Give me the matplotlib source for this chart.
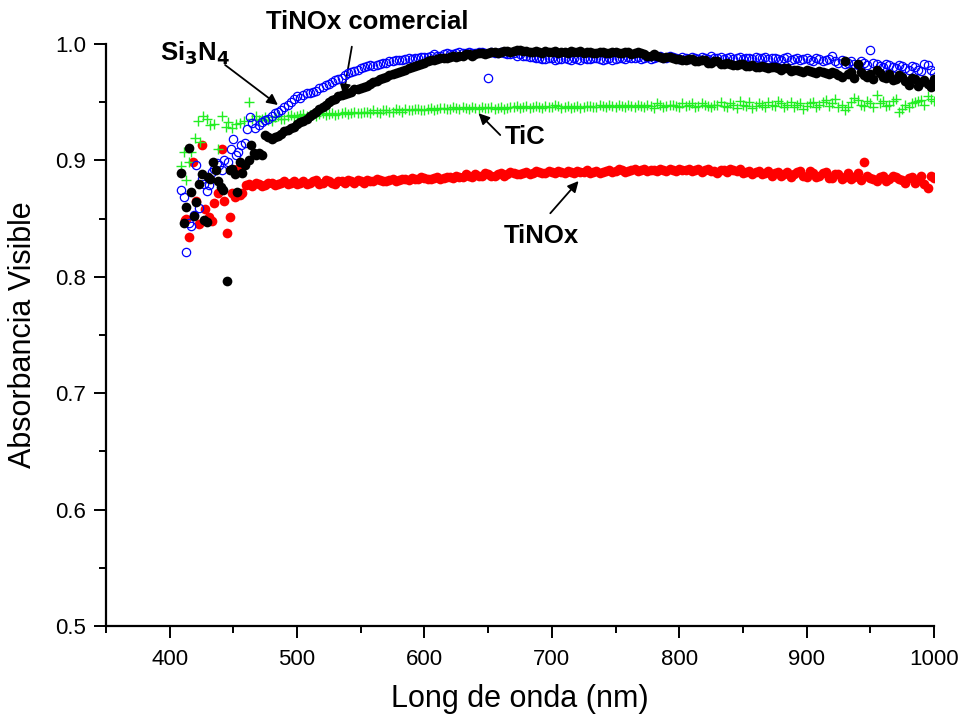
import matplotlib
matplotlib.use("Agg")
import matplotlib.pyplot as plt
from matplotlib.ticker import MultipleLocator

plt.rcParams['font.family'] = ['Liberation Sans', 'DejaVu Sans']

# ---------------- data ----------------
# early scattered region (nm, absorbance)
si3n4_early_x = [409, 411, 413, 415, 417, 419, 421, 423, 425, 427, 429, 431, 433, 435, 437, 439, 441, 443, 446, 448, 450, 452, 454, 456, 459, 461, 463, 465, 467]
si3n4_early_y = [0.875, 0.869, 0.821, 0.846, 0.844, 0.853, 0.896, 0.859, 0.884, 0.880, 0.874, 0.879, 0.890, 0.893, 0.898, 0.896, 0.892, 0.900, 0.899, 0.910, 0.918, 0.905, 0.907, 0.913, 0.915, 0.927, 0.937, 0.932, 0.928]

comercial_early_x = [409, 411, 413, 415, 417, 419, 421, 423, 425, 427, 429, 430, 432, 434, 436, 438, 440, 442, 445, 447, 449, 451, 453, 455, 457, 459, 462, 464, 466, 468]
comercial_early_y = [0.889, 0.846, 0.860, 0.911, 0.873, 0.852, 0.864, 0.880, 0.888, 0.849, 0.847, 0.886, 0.884, 0.899, 0.892, 0.882, 0.877, 0.875, 0.796, 0.892, 0.893, 0.888, 0.873, 0.899, 0.889, 0.896, 0.900, 0.913, 0.906, 0.905]

tic_early_x = [409, 411, 413, 415, 417, 420, 422, 424, 426, 429, 432, 435, 438, 441, 444, 446, 449, 452, 455, 458, 462, 465, 468]
tic_early_y = [0.895, 0.907, 0.883, 0.899, 0.907, 0.919, 0.934, 0.916, 0.938, 0.936, 0.930, 0.931, 0.910, 0.938, 0.929, 0.933, 0.928, 0.931, 0.932, 0.934, 0.950, 0.936, 0.938]

tinox_early_x = [412, 413, 415, 418, 421, 423, 425, 428, 431, 433, 435, 438, 441, 443, 445, 447, 449, 451, 453, 455, 457, 460, 462.5, 465, 467.5]
tinox_early_y = [0.849, 0.850, 0.834, 0.899, 0.865, 0.845, 0.913, 0.858, 0.851, 0.848, 0.863, 0.872, 0.910, 0.865, 0.838, 0.851, 0.872, 0.869, 0.893, 0.870, 0.872, 0.879, 0.880, 0.878, 0.881]

# regular region, every 5 nm
wl_main = [470, 475, 480, 485, 490, 495, 500, 505, 510, 515, 520, 525, 530, 535, 540, 545, 550, 555, 560, 565,
           570, 575, 580, 585, 590, 595, 600, 605, 610, 615, 620, 625, 630, 635, 640, 645, 650, 655, 660, 665,
           670, 675, 680, 685, 690, 695, 700, 705, 710, 715, 720, 725, 730, 735, 740, 745, 750, 755, 760, 765,
           770, 775, 780, 785, 790, 795, 800, 805, 810, 815, 820, 825, 830, 835, 840, 845, 850, 855, 860, 865,
           870, 875, 880, 885, 890, 895, 900, 905, 910, 915, 920, 925, 930, 935, 940, 945, 950, 955, 960, 965,
           970, 975, 980, 985, 990, 995, 1000]

si3n4_main = [0.930, 0.935, 0.938, 0.942, 0.946, 0.950, 0.955, 0.956, 0.958, 0.960, 0.963, 0.966, 0.969, 0.971, 0.975, 0.977, 0.979, 0.981, 0.981, 0.983,
              0.984, 0.985, 0.986, 0.987, 0.987, 0.988, 0.989, 0.990, 0.990, 0.991, 0.991, 0.992, 0.992, 0.993, 0.992, 0.993, 0.971, 0.992, 0.993, 0.991,
              0.992, 0.991, 0.990, 0.989, 0.988, 0.987, 0.988, 0.987, 0.988, 0.986, 0.987, 0.988, 0.987, 0.988, 0.986, 0.988, 0.987, 0.988, 0.989, 0.988,
              0.987, 0.989, 0.988, 0.990, 0.988, 0.989, 0.987, 0.988, 0.989, 0.987, 0.988, 0.990, 0.988, 0.987, 0.989, 0.988, 0.987, 0.988, 0.989, 0.988,
              0.987, 0.988, 0.986, 0.989, 0.987, 0.986, 0.988, 0.985, 0.987, 0.986, 0.990, 0.984, 0.983, 0.985, 0.982, 0.984, 0.995, 0.983, 0.980, 0.982,
              0.979, 0.981, 0.978, 0.980, 0.977, 0.982, 0.975]

comercial_main = [0.906, 0.922, 0.918, 0.921, 0.925, 0.928, 0.931, 0.934, 0.938, 0.942, 0.946, 0.950, 0.953, 0.956, 0.958, 0.961, 0.962, 0.964, 0.967, 0.970,
                  0.972, 0.974, 0.976, 0.978, 0.980, 0.982, 0.984, 0.986, 0.987, 0.988, 0.989, 0.989, 0.990, 0.991, 0.991, 0.992, 0.992, 0.993, 0.993, 0.994,
                  0.994, 0.995, 0.994, 0.993, 0.993, 0.994, 0.993, 0.992, 0.993, 0.994, 0.993, 0.992, 0.993, 0.992, 0.993, 0.992, 0.993, 0.992, 0.993, 0.992,
                  0.992, 0.990, 0.991, 0.989, 0.989, 0.988, 0.987, 0.986, 0.987, 0.985, 0.986, 0.984, 0.985, 0.983, 0.983, 0.982, 0.983, 0.981, 0.980, 0.981,
                  0.979, 0.980, 0.978, 0.979, 0.978, 0.977, 0.978, 0.976, 0.977, 0.975, 0.976, 0.973, 0.985, 0.976, 0.983, 0.973, 0.974, 0.978, 0.972, 0.974,
                  0.970, 0.972, 0.965, 0.970, 0.967, 0.966, 0.970]

tic_main = [0.935, 0.937, 0.934, 0.938, 0.936, 0.939, 0.938, 0.940, 0.939, 0.938, 0.941, 0.940, 0.939, 0.941, 0.940, 0.942, 0.941, 0.942, 0.943, 0.941,
            0.943, 0.942, 0.943, 0.944, 0.943, 0.944, 0.943, 0.945, 0.944, 0.945, 0.944, 0.945, 0.946, 0.944, 0.945, 0.946, 0.945, 0.944, 0.946, 0.945,
            0.946, 0.945, 0.947, 0.946, 0.946, 0.947, 0.946, 0.947, 0.946, 0.945, 0.947, 0.946, 0.947, 0.946, 0.947, 0.948, 0.946, 0.947, 0.948, 0.946,
            0.947, 0.948, 0.945, 0.948, 0.947, 0.948, 0.946, 0.947, 0.949, 0.947, 0.948, 0.946, 0.948, 0.947, 0.949, 0.945, 0.948, 0.950, 0.947, 0.948,
            0.950, 0.947, 0.949, 0.948, 0.946, 0.949, 0.947, 0.950, 0.948, 0.952, 0.949, 0.946, 0.943, 0.950, 0.952, 0.947, 0.949, 0.956, 0.951, 0.948,
            0.953, 0.944, 0.946, 0.950, 0.952, 0.955, 0.951]

tinox_main = [0.880, 0.879, 0.881, 0.880, 0.882, 0.881, 0.880, 0.882, 0.881, 0.883, 0.881, 0.882, 0.880, 0.882, 0.883, 0.881, 0.882, 0.883, 0.882, 0.883,
              0.882, 0.884, 0.883, 0.884, 0.885, 0.884, 0.885, 0.884, 0.886, 0.885, 0.886, 0.887, 0.886, 0.887, 0.888, 0.887, 0.888, 0.887, 0.889, 0.888,
              0.889, 0.888, 0.890, 0.889, 0.890, 0.889, 0.890, 0.891, 0.889, 0.890, 0.891, 0.890, 0.889, 0.891, 0.890, 0.892, 0.891, 0.892, 0.891, 0.893,
              0.892, 0.891, 0.892, 0.893, 0.891, 0.892, 0.893, 0.892, 0.891, 0.893, 0.892, 0.891, 0.889, 0.892, 0.893, 0.891, 0.889, 0.891, 0.890, 0.888,
              0.891, 0.889, 0.887, 0.890, 0.888, 0.891, 0.886, 0.889, 0.887, 0.890, 0.885, 0.888, 0.886, 0.884, 0.889, 0.899, 0.885, 0.882, 0.887, 0.884,
              0.886, 0.883, 0.885, 0.881, 0.887, 0.876, 0.885]

# intermediate readings, between the 5 nm grid
wl_mid = [472.5, 477.5, 482.5, 487.5, 492.5, 497.5, 502.5, 507.5, 512.5, 517.5, 522.5, 527.5, 532.5, 537.5, 542.5, 547.5, 552.5, 557.5, 562.5, 567.5,
          572.5, 577.5, 582.5, 587.5, 592.5, 597.5, 602.5, 607.5, 612.5, 617.5, 622.5, 627.5, 632.5, 637.5, 642.5, 647.5, 652.5, 657.5, 662.5, 667.5,
          672.5, 677.5, 682.5, 687.5, 692.5, 697.5, 702.5, 707.5, 712.5, 717.5, 722.5, 727.5, 732.5, 737.5, 742.5, 747.5, 752.5, 757.5, 762.5, 767.5,
          772.5, 777.5, 782.5, 787.5, 792.5, 797.5, 802.5, 807.5, 812.5, 817.5, 822.5, 827.5, 832.5, 837.5, 842.5, 847.5, 852.5, 857.5, 862.5, 867.5,
          872.5, 877.5, 882.5, 887.5, 892.5, 897.5, 902.5, 907.5, 912.5, 917.5, 922.5, 927.5, 932.5, 937.5, 942.5, 947.5, 952.5, 957.5, 962.5, 967.5,
          972.5, 977.5, 982.5, 987.5, 992.5, 997.5]

si3n4_mid = [0.933, 0.936, 0.941, 0.943, 0.948, 0.953, 0.954, 0.958, 0.959, 0.962, 0.965, 0.967, 0.970, 0.973, 0.976, 0.978, 0.980, 0.982, 0.982, 0.984,
             0.985, 0.986, 0.986, 0.988, 0.988, 0.989, 0.989, 0.991, 0.990, 0.992, 0.991, 0.993, 0.992, 0.992, 0.993, 0.992, 0.993, 0.992, 0.992, 0.991,
             0.990, 0.990, 0.989, 0.988, 0.987, 0.988, 0.986, 0.987, 0.987, 0.988, 0.986, 0.987, 0.988, 0.987, 0.987, 0.986, 0.988, 0.987, 0.988, 0.989,
             0.988, 0.987, 0.989, 0.988, 0.990, 0.988, 0.989, 0.987, 0.988, 0.989, 0.987, 0.988, 0.989, 0.988, 0.987, 0.989, 0.988, 0.987, 0.988, 0.989,
             0.988, 0.987, 0.988, 0.986, 0.988, 0.987, 0.986, 0.988, 0.985, 0.987, 0.985, 0.986, 0.984, 0.983, 0.985, 0.982, 0.984, 0.981, 0.983, 0.980,
             0.982, 0.979, 0.981, 0.978, 0.983, 0.978]

comercial_mid = [0.905, 0.920, 0.920, 0.923, 0.926, 0.929, 0.933, 0.936, 0.940, 0.944, 0.948, 0.952, 0.955, 0.957, 0.959, 0.961, 0.963, 0.966, 0.968, 0.971,
                 0.973, 0.975, 0.977, 0.979, 0.981, 0.983, 0.985, 0.986, 0.988, 0.988, 0.990, 0.990, 0.991, 0.990, 0.992, 0.991, 0.993, 0.992, 0.994, 0.993,
                 0.995, 0.994, 0.993, 0.994, 0.992, 0.993, 0.994, 0.993, 0.992, 0.993, 0.994, 0.993, 0.992, 0.993, 0.992, 0.993, 0.992, 0.993, 0.991, 0.993,
                 0.991, 0.990, 0.990, 0.988, 0.989, 0.987, 0.986, 0.987, 0.985, 0.986, 0.984, 0.985, 0.983, 0.984, 0.982, 0.983, 0.981, 0.982, 0.980, 0.980,
                 0.980, 0.979, 0.979, 0.977, 0.978, 0.976, 0.977, 0.975, 0.976, 0.974, 0.975, 0.972, 0.974, 0.971, 0.976, 0.972, 0.970, 0.975, 0.971, 0.969,
                 0.973, 0.968, 0.971, 0.964, 0.969, 0.963]

tic_mid = [0.936, 0.935, 0.937, 0.936, 0.938, 0.937, 0.939, 0.938, 0.940, 0.940, 0.939, 0.941, 0.940, 0.942, 0.941, 0.941, 0.942, 0.941, 0.942, 0.943,
           0.942, 0.944, 0.942, 0.943, 0.944, 0.943, 0.944, 0.943, 0.945, 0.944, 0.946, 0.944, 0.945, 0.946, 0.944, 0.945, 0.946, 0.945, 0.944, 0.946,
           0.947, 0.946, 0.945, 0.947, 0.945, 0.946, 0.948, 0.945, 0.947, 0.946, 0.945, 0.947, 0.946, 0.948, 0.946, 0.947, 0.948, 0.946, 0.947, 0.948,
           0.946, 0.947, 0.949, 0.946, 0.948, 0.947, 0.949, 0.948, 0.946, 0.949, 0.947, 0.948, 0.950, 0.946, 0.948, 0.951, 0.947, 0.945, 0.949, 0.946,
           0.948, 0.951, 0.946, 0.950, 0.948, 0.944, 0.949, 0.946, 0.950, 0.947, 0.953, 0.948, 0.946, 0.954, 0.948, 0.951, 0.946, 0.949, 0.947, 0.951,
           0.942, 0.948, 0.949, 0.951, 0.948, 0.953]

tinox_mid = [0.878, 0.881, 0.879, 0.881, 0.880, 0.882, 0.881, 0.880, 0.882, 0.880, 0.883, 0.881, 0.882, 0.881, 0.882, 0.883, 0.881, 0.882, 0.884, 0.882,
             0.883, 0.882, 0.884, 0.883, 0.884, 0.886, 0.884, 0.885, 0.884, 0.886, 0.885, 0.886, 0.888, 0.886, 0.887, 0.889, 0.887, 0.888, 0.887, 0.890,
             0.888, 0.889, 0.888, 0.891, 0.889, 0.891, 0.889, 0.890, 0.891, 0.889, 0.890, 0.892, 0.890, 0.889, 0.891, 0.890, 0.893, 0.890, 0.892, 0.891,
             0.893, 0.892, 0.891, 0.892, 0.893, 0.891, 0.892, 0.893, 0.892, 0.890, 0.893, 0.891, 0.892, 0.890, 0.892, 0.893, 0.890, 0.888, 0.891, 0.889,
             0.887, 0.890, 0.888, 0.886, 0.890, 0.887, 0.891, 0.886, 0.889, 0.885, 0.888, 0.884, 0.889, 0.886, 0.883, 0.887, 0.884, 0.886, 0.882, 0.887,
             0.884, 0.881, 0.886, 0.883, 0.880, 0.887]

# ---------------- figure ----------------
fig = plt.figure(figsize=(9.6, 7.18), dpi=100)
ax = fig.add_axes([0.1104, 0.1281, 0.8625, 0.8106])

ax.plot(tinox_early_x + wl_main + wl_mid, tinox_early_y + tinox_main + tinox_mid,
        'o', ms=7.0, mfc='#ff0000', mec='#ff0000', mew=0, ls='none', zorder=2)
ax.plot(tic_early_x + wl_main + wl_mid, tic_early_y + tic_main + tic_mid,
        '+', ms=7, mec='#22ee22', mew=1.0, ls='none', zorder=3)
ax.plot(si3n4_early_x + wl_main + wl_mid, si3n4_early_y + si3n4_main + si3n4_mid,
        'o', ms=6.0, mfc='none', mec='#0000ff', mew=0.9, ls='none', zorder=4)
ax.plot(comercial_early_x + wl_main + wl_mid, comercial_early_y + comercial_main + comercial_mid,
        'o', ms=7.0, mfc='black', mec='black', mew=0, ls='none', zorder=5)

ax.set_xlim(350, 1000)
ax.set_ylim(0.5, 1.0)
ax.xaxis.set_minor_locator(MultipleLocator(50))
ax.yaxis.set_minor_locator(MultipleLocator(0.05))
ax.set_xticks([400, 500, 600, 700, 800, 900, 1000])
ax.set_xticklabels(['400', '500', '600', '700', '800', '900', '1000'])
ax.set_yticks([0.5, 0.6, 0.7, 0.8, 0.9, 1.0])
ax.set_yticklabels(['0.5', '0.6', '0.7', '0.8', '0.9', '1.0'])

for s in ('top', 'right'):
    ax.spines[s].set_visible(False)
for s in ('left', 'bottom'):
    ax.spines[s].set_linewidth(1.6)

ax.tick_params(which='major', direction='out', length=8.5, width=1.4, labelsize=16, pad=6)
ax.tick_params(which='minor', direction='out', length=5, width=1.4)
ax.tick_params(axis='x', which='major', pad=8)

ax.set_xlabel('Long de onda (nm)', fontsize=22, labelpad=10)
ax.set_ylabel('Absorbancia Visible', fontsize=22, labelpad=12)

arrow = dict(arrowstyle='-|>', color='black', lw=1.3, mutation_scale=16, shrinkA=0, shrinkB=0)
tkw = dict(fontsize=18.5, fontweight='bold', clip_on=False)

ax.text(448, 0.9923, 'Si$_\\mathbf{3}$N$_\\mathbf{4}$', ha='right', va='center', **tkw)
ax.annotate('', xy=(485, 0.9476), xytext=(443.5, 0.982), arrowprops=arrow, annotation_clip=False)

ax.text(555, 1.0189, 'TiNOx comercial', ha='center', va='center', **tkw)
ax.annotate('', xy=(536.4, 0.956), xytext=(543, 0.9977), arrowprops=arrow, annotation_clip=False)

ax.text(679, 0.920, 'TiC', ha='center', va='center', **tkw)
ax.annotate('', xy=(642.5, 0.9405), xytext=(659.5, 0.9218), arrowprops=arrow, annotation_clip=False)

ax.text(691.7, 0.835, 'TiNOx', ha='center', va='center', **tkw)
ax.annotate('', xy=(721, 0.8823), xytext=(698.8, 0.8546), arrowprops=arrow, annotation_clip=False)

fig.savefig('out.png', dpi=100)
